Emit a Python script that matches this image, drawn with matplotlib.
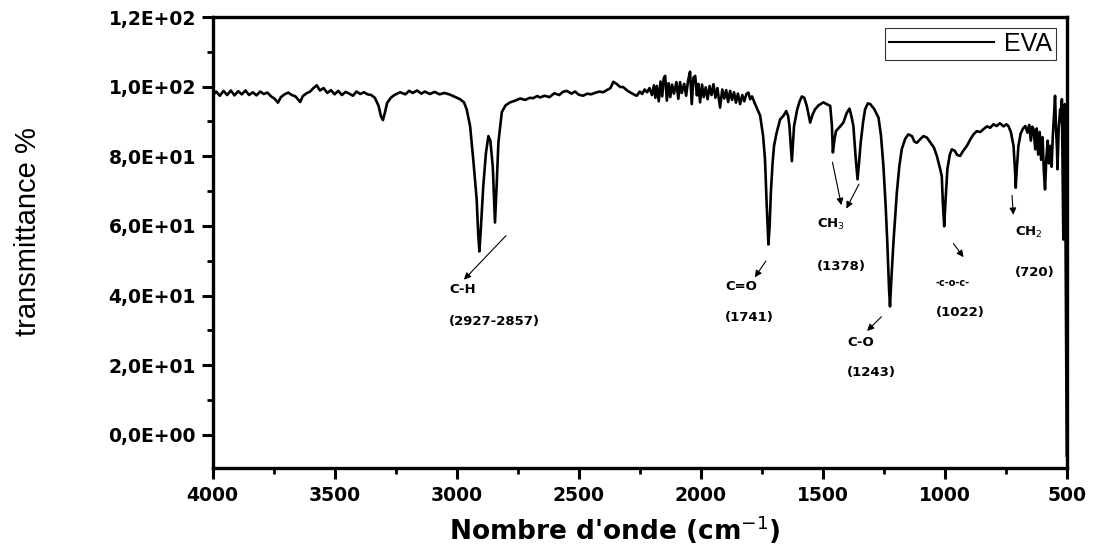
import matplotlib
matplotlib.use('Agg')
import matplotlib.pyplot as plt
from matplotlib.ticker import MultipleLocator, FuncFormatter

# spectre FTIR EVA
wavenumber = [4000, 3985, 3970, 3955, 3940, 3925, 3910, 3895, 3880, 3865, 3850, 3835, 3820, 3805,
              3790, 3775, 3760, 3745, 3732, 3720, 3705, 3690, 3675, 3660, 3641, 3630, 3615, 3600,
              3588, 3573, 3560, 3545, 3530, 3515, 3500, 3485, 3470, 3455, 3440, 3425, 3410, 3395,
              3380, 3365, 3350, 3335, 3320, 3310, 3302, 3294, 3285, 3270, 3255, 3232, 3210, 3195,
              3180, 3162, 3145, 3130, 3110, 3090, 3070, 3050, 3027, 3005, 2986, 2970, 2959, 2945,
              2932, 2918, 2912, 2907, 2902, 2891, 2880, 2870, 2862, 2852, 2843, 2836, 2829, 2815,
              2800, 2781, 2760, 2740, 2720, 2700, 2687, 2670, 2658, 2640, 2620, 2600, 2580, 2565,
              2549, 2530, 2515, 2500, 2482, 2465, 2450, 2430, 2415, 2400, 2385, 2370, 2358, 2345,
              2330, 2318, 2300, 2285, 2270, 2262, 2250, 2240, 2230, 2220, 2210, 2200, 2192, 2186,
              2180, 2172, 2165, 2158, 2152, 2146, 2139, 2132, 2125, 2118, 2110, 2100, 2092, 2085,
              2078, 2068, 2060, 2052, 2044, 2040, 2037, 2030, 2023, 2016, 2010, 2003, 1995, 1988,
              1980, 1972, 1964, 1956, 1948, 1940, 1932, 1921, 1912, 1904, 1896, 1888, 1880, 1872,
              1864, 1856, 1848, 1839, 1830, 1822, 1813, 1805, 1798, 1790, 1780, 1770, 1757, 1745,
              1737, 1730, 1723, 1718, 1713, 1706, 1700, 1690, 1675, 1662, 1650, 1642, 1637, 1627,
              1618, 1605, 1595, 1586, 1576, 1566, 1552, 1542, 1532, 1518, 1498, 1485, 1470, 1463,
              1459, 1452, 1446, 1430, 1416, 1402, 1391, 1383, 1375, 1366, 1358, 1352, 1345, 1335,
              1327, 1316, 1306, 1290, 1272, 1262, 1252, 1243, 1236, 1229, 1225, 1220, 1211, 1197,
              1187, 1177, 1163, 1150, 1135, 1125, 1115, 1100, 1088, 1074, 1060, 1045, 1033, 1020,
              1013, 1008, 1003, 997, 990, 980, 972, 960, 950, 938, 925, 910, 895, 883, 870, 855,
              842, 828, 815, 801, 788, 775, 760, 748, 740, 730, 719, 713, 710, 706, 699, 690, 680,
              671, 662, 655, 648, 642, 637, 630, 624, 618, 612, 606, 600, 595, 590, 585, 579, 574,
              569, 563, 558, 553, 549, 545, 541, 539, 534, 528, 524, 521, 518, 515, 512, 509, 506,
              503, 501]
transmittance = [97.5, 98.6, 97.4, 98.8, 97.6, 98.9, 97.5, 98.7, 97.8, 98.9, 97.6, 98.4, 97.5, 98.6,
                 97.9, 98.3, 97.2, 96.5, 95.4, 97.0, 97.8, 98.3, 97.6, 97.2, 95.6, 97.3, 98.1, 98.6,
                 99.5, 100.4, 98.9, 99.6, 98.2, 99.0, 97.8, 98.8, 97.6, 98.5, 98.0, 97.4, 98.6, 97.9,
                 98.4, 97.8, 97.6, 96.8, 94.5, 91.5, 90.4, 92.5, 95.3, 96.8, 97.6, 98.4, 97.8, 98.8,
                 98.2, 98.9, 98.0, 98.6, 97.9, 98.5, 97.8, 98.2, 97.7, 97.0, 96.4, 95.5, 93.5, 88.7,
                 79.1, 67.6, 58.0, 52.7, 58.0, 71.4, 81.0, 85.8, 84.5, 77.0, 61.0, 72.0, 84.0, 92.7,
                 94.6, 95.5, 96.0, 96.6, 96.2, 96.8, 96.7, 97.3, 96.9, 97.4, 97.0, 98.1, 97.6, 98.5,
                 98.8, 98.0, 98.6, 97.7, 97.4, 98.0, 97.8, 98.3, 98.6, 98.4, 99.0, 99.6, 101.4, 100.8,
                 99.9, 99.9, 98.8, 98.2, 97.6, 97.4, 98.6, 97.9, 99.2, 98.4, 99.6, 97.6, 100.4, 96.8,
                 100.2, 95.8, 101.5, 97.2, 102.4, 103.1, 96.0, 101.0, 97.0, 100.6, 98.0, 101.3, 96.5, 101.3,
                 98.2, 100.8, 97.4, 101.8, 104.3, 99.0, 95.0, 102.6, 103.1, 97.5, 100.8, 95.5, 100.6, 97.0,
                 99.8, 96.4, 100.2, 97.6, 100.7, 96.8, 99.6, 94.0, 99.2, 96.6, 99.0, 95.6, 98.8, 96.2,
                 98.4, 95.4, 98.0, 95.0, 97.6, 95.8, 97.9, 98.3, 96.4, 97.2, 95.4, 93.8, 91.7, 86.0,
                 79.1, 66.0, 54.7, 60.0, 69.6, 78.0, 83.0, 86.6, 90.6, 91.6, 93.0, 91.5, 88.7, 78.6,
                 88.7, 93.5, 95.8, 97.2, 96.8, 94.5, 89.7, 92.0, 93.5, 94.6, 95.5, 95.0, 94.5, 89.0,
                 81.1, 85.0, 87.3, 88.5, 89.7, 92.5, 93.7, 91.5, 88.7, 80.0, 73.4, 78.0, 83.9, 90.0,
                 93.5, 95.2, 95.0, 93.6, 91.1, 86.0, 77.2, 66.0, 55.2, 42.0, 36.9, 44.0, 55.2, 69.6,
                 77.0, 82.0, 85.0, 86.3, 85.8, 84.2, 83.9, 85.0, 85.8, 85.4, 84.0, 82.5, 80.1, 76.5,
                 74.3, 66.0, 59.9, 68.0, 76.3, 80.5, 82.0, 81.6, 80.4, 80.1, 81.6, 83.0, 85.0, 86.3, 87.2, 87.0,
                 87.8, 88.6, 88.2, 89.2, 88.7, 89.5, 88.6, 89.2, 88.7, 87.0, 83.0, 76.0, 71.0, 76.0, 83.0, 86.5, 88.0,
                 88.7, 86.8, 89.0, 84.5, 88.5, 87.8, 82.0, 88.0, 80.5, 87.0, 79.0, 85.5, 76.0, 70.5, 79.0, 84.5, 78.0,
                 83.0, 77.0, 86.0, 92.0, 97.4, 88.0, 82.0, 76.3, 88.0, 93.5, 90.0, 96.4, 75.0, 56.1, 86.0, 95.0, 60.0,
                 20.0, -6.0]

y_ticks = [0, 20, 40, 60, 80, 100, 120]
x_ticks = [4000, 3500, 3000, 2500, 2000, 1500, 1000, 500]

# annotations: texte, position (bord gauche), flèche (début -> fin)
labels = [('C-H', 3031, 41.7), ('(2927-2857)', 3031, 32.5),
          ('C=O', 1900, 42.6), ('(1741)', 1900, 33.7),
          ('CH$_3$', 1524, 60.4), ('(1378)', 1524, 48.3),
          ('C-O', 1401, 26.5), ('(1243)', 1401, 17.8),
          ('-c-o-c-', 1040, 43.5), ('(1022)', 1036, 35.1),
          ('CH$_2$', 713, 58.1), ('(720)', 713, 46.6)]
arrows = [((2790, 57.8), (2978, 44.0)),
          ((1727, 50.6), (1785, 44.6)),
          ((1463, 79.1), (1422, 65.2)),
          ((1347, 72.7), (1409, 64.3)),
          ((1252, 34.5), (1327, 29.3)),
          ((972, 55.6), (917, 50.4)),
          ((726, 69.6), (719, 62.4))]

plt.rcParams['font.family'] = ['DejaVu Sans']

fig = plt.figure(figsize=(11, 5.49), dpi=100)
ax = fig.add_axes([0.1932, 0.1475, 0.7768, 0.8215])

ax.plot(wavenumber, transmittance, color='black', lw=1.9, label='EVA')

ax.set_xlim(4000, 500)
ax.set_ylim(-9.5, 120)
ax.set_xticks(x_ticks)
ax.set_yticks(y_ticks)
ax.xaxis.set_minor_locator(MultipleLocator(250))
ax.yaxis.set_minor_locator(MultipleLocator(10))
ax.yaxis.set_major_formatter(FuncFormatter(
    lambda v, p: ('%.1E' % v).replace('.', ',')))

for s in ax.spines.values():
    s.set_linewidth(2.4)
ax.tick_params(which='major', length=8, width=2.2, direction='out')
ax.tick_params(which='minor', length=4.5, width=2.0, direction='out')
ax.tick_params(axis='x', which='major', pad=5)
ax.tick_params(axis='y', which='major', pad=4)
for t in ax.get_xticklabels() + ax.get_yticklabels():
    t.set_fontweight('bold')
    t.set_fontsize(13.5)

ax.set_xlabel("Nombre d'onde (cm$^{-1}$)", fontsize=19, fontweight='bold')
ax.xaxis.set_label_coords(0.471, -0.1)
ax.set_ylabel('transmittance %', fontsize=21, family='Liberation Sans')
ax.yaxis.set_label_coords(-0.1995, 0.525)

for txt, x, y in labels:
    fs = 7 if txt == '-c-o-c-' else 9.5
    ax.text(x, y, txt, fontsize=fs, fontweight='bold', ha='left', va='center')
for (x0, y0), (x1, y1) in arrows:
    ax.annotate('', xy=(x1, y1), xytext=(x0, y0),
                arrowprops=dict(arrowstyle='-|>', lw=0.8, color='black', mutation_scale=10))

leg = ax.legend(loc='upper right', prop={'family': 'Liberation Sans', 'size': 18},
                handlelength=4.2, handletextpad=0.4, frameon=True, fancybox=False,
                borderaxespad=0.45, borderpad=0.15)
leg.get_frame().set_edgecolor('black')
leg.get_frame().set_linewidth(0.8)
leg.get_lines()[0].set_linewidth(1.5)

plt.savefig('out.png', dpi=100)
